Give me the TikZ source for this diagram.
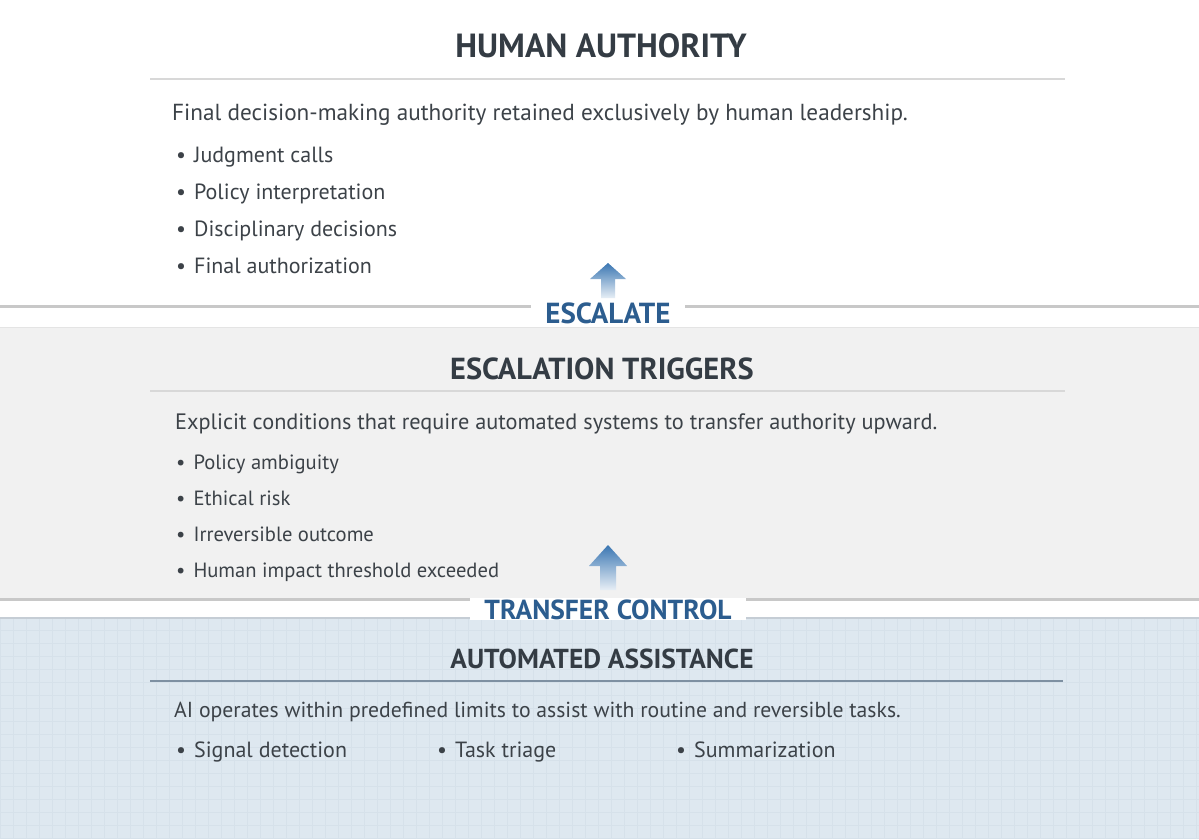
\documentclass[tikz,border=0pt]{standalone}
\usepackage{fontspec}
\setmainfont{PT Sans}
\definecolor{headtext}{HTML}{343C44}
\definecolor{bodytext}{HTML}{3C4248}
\definecolor{labelblue}{HTML}{2C5D8F}
\definecolor{arrowblue}{HTML}{3A76B2}
\definecolor{midband}{HTML}{F1F1F1}
\definecolor{lowband}{HTML}{DEE8F0}
\definecolor{gridblue}{HTML}{D6E1EA}
\definecolor{sepgray}{HTML}{C8C8C8}
\definecolor{rulegray}{HTML}{D8D8D8}
\definecolor{ruleblue}{HTML}{7E90A2}
\newcommand{\bulletitem}[1]{\textbullet\hspace{8pt}#1}
\tikzset{
    heading/.style={anchor=base, text=headtext, font=\bfseries\fontsize{#1}{#1}\selectfont},
    bodyline/.style={anchor=base west, text=bodytext, inner sep=0pt, font=\fontsize{#1}{#1}\selectfont},
    flowlabel/.style={anchor=base, fill=white, inner xsep=14pt, inner ysep=1pt, text=labelblue, font=\bfseries\fontsize{#1}{#1}\selectfont},
    gridline/.style={gridblue, line width=0.5pt},
    upshade/.style={top color=arrowblue, middle color=arrowblue, bottom color=arrowblue!12}
}
\begin{document}
\begin{tikzpicture}[x=1pt, y=-1pt]
    \useasboundingbox (0, 0) rectangle (1199, 839);

    % Bands
    \fill[white] (0, 0) rectangle (1199, 839);
    \fill[midband] (0, 327) rectangle (1199, 598);
    \draw[rulegray!70, line width=1pt] (0, 327.5) -- (1199, 327.5);
    \fill[lowband] (0, 617) rectangle (1199, 839);
    \foreach \gx in {0, 13, ..., 1199} \draw[gridline] (\gx, 618) -- (\gx, 839);
    \foreach \gy in {630, 643, ..., 839} \draw[gridline] (0, \gy) -- (1199, \gy);
    \draw[ruleblue!45, line width=2pt] (0, 618) -- (1199, 618);
    \fill[sepgray] (0, 305) rectangle (1199, 308);
    \fill[sepgray] (0, 598) rectangle (1199, 601);

    % Human authority
    \node[heading=33.5] (authority) at (601, 57) {HUMAN AUTHORITY};
    \draw[rulegray, line width=1.2pt] (150, 79) -- (1065, 79);
    \node[bodyline=23.2] (authority-desc) at (172, 120) {Final decision-making authority retained exclusively by human leadership.};
    \foreach \txt [count=\i] in {Judgment calls, Policy interpretation, Disciplinary decisions, Final authorization}
        \node[bodyline=22] (authority-\i) at (176, {162 + 37.3*(\i-1)}) {\bulletitem{\txt}};

    % Escalate
    \shade[upshade] (608, 263) -- (626, 279) -- (615, 279) -- (615, 298) -- (601, 298) -- (601, 279) -- (590, 279) -- cycle;
    \node[flowlabel=29] (escalate) at (608, 323) {ESCALATE};

    % Escalation triggers
    \node[heading=30.4] (triggers) at (602, 379) {ESCALATION TRIGGERS};
    \draw[rulegray, line width=1.2pt] (150, 391) -- (1065, 391);
    \node[bodyline=22.3] (triggers-desc) at (175, 429) {Explicit conditions that require automated systems to transfer authority upward.};
    \foreach \txt [count=\i] in {Policy ambiguity, Ethical risk, Irreversible outcome, Human impact threshold exceeded}
        \node[bodyline=20.6] (triggers-\i) at (176, {469 + 36.3*(\i-1)}) {\bulletitem{\txt}};

    % Transfer control
    \shade[upshade] (608, 545) -- (627, 566) -- (616, 566) -- (616, 590) -- (600, 590) -- (600, 566) -- (589, 566) -- cycle;
    \node[flowlabel=27.5] (transfer) at (608, 619) {TRANSFER CONTROL};

    % Automated assistance
    \node[heading=27.4] (assistance) at (602, 668) {AUTOMATED ASSISTANCE};
    \draw[ruleblue, line width=1.2pt] (150, 681) -- (1063, 681);
    \node[bodyline=21.7] (assistance-desc) at (174, 717) {AI operates within predefined limits to assist with routine and reversible tasks.};
    \node[bodyline=22] (assistance-1) at (176, 757) {\bulletitem{Signal detection}};
    \node[bodyline=22] (assistance-2) at (437, 757) {\bulletitem{Task triage}};
    \node[bodyline=22] (assistance-3) at (676, 757) {\bulletitem{Summarization}};
\end{tikzpicture}
\end{document}
